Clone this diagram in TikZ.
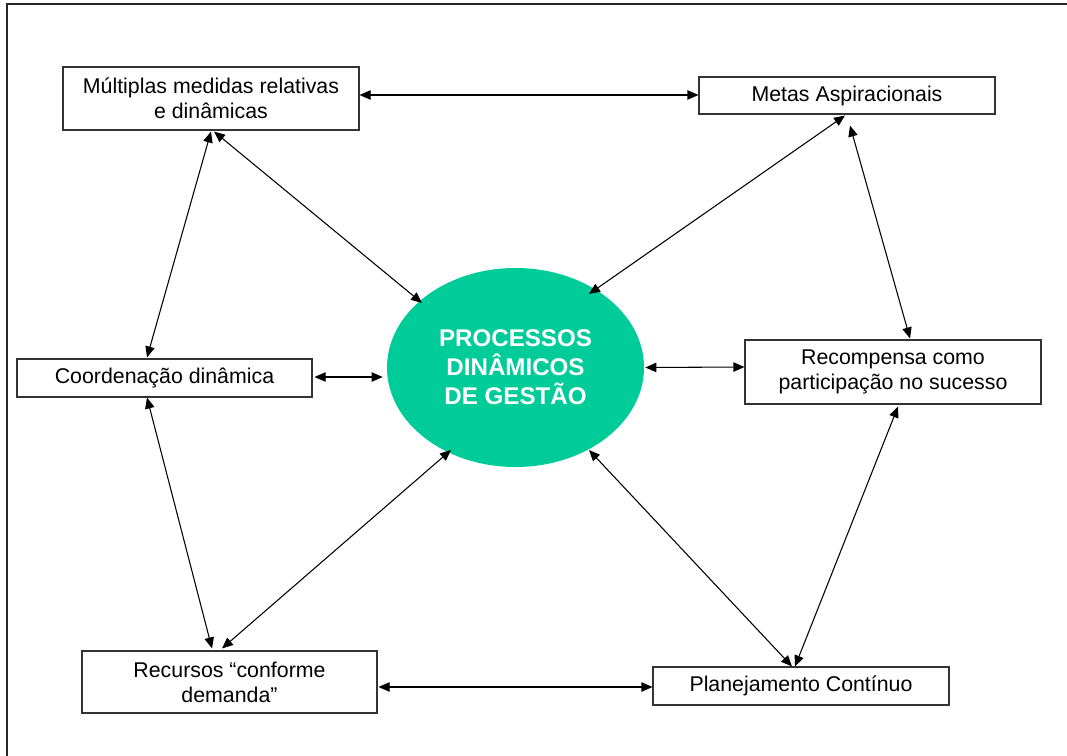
\documentclass[tikz,border=0pt]{standalone}
\usepackage{fontspec}
\setmainfont{Liberation Sans}
\usetikzlibrary{calc,arrows.meta,shapes.geometric}
\definecolor{procgreen}{RGB}{0,204,153}
\begin{document}
\begin{tikzpicture}[x=0.75pt,y=-0.75pt,
  box/.style={draw=black!80,line width=0.8pt,fill=white,inner sep=0pt,align=center,
    font=\fontsize{16}{18.75}\selectfont},
  link/.style={line width=0.8pt,
    {Triangle[length=8.25pt,width=7pt]}-{Triangle[length=8.25pt,width=7pt]}}]
\useasboundingbox (0,0) rectangle (1067,756);
\draw[line width=1.1pt,black!85] (7,756) -- (7,4) -- (1067,4);

\node[box,minimum width=222pt,minimum height=47.25pt] (m) at (211,98.5) {Múltiplas medidas relativas\\e dinâmicas};
\node[box,minimum width=222pt,minimum height=27.75pt] (a) at (847,95.5) {Metas Aspiracionais};
\node[box,minimum width=221.25pt,minimum height=28.5pt] (c) at (164.5,378) {Coordenação dinâmica};
\node[box,minimum width=222pt,minimum height=48pt] (r) at (893,372) {Recompensa como\\participação no sucesso};
\node[box,minimum width=221.25pt,minimum height=46.5pt] (u) at (229.5,682) {Recursos “conforme\\demanda”};
\node[box,minimum width=222pt,minimum height=28.5pt] (p) at (801,686) {Planejamento Contínuo};
\node[ellipse,fill=procgreen,minimum width=192.75pt,minimum height=149.25pt,inner sep=0pt,
  align=center,text=white,font=\bfseries\fontsize{18.1}{21.75}\selectfont] (e) at (515.5,367.5)
  {PROCESSOS\\DINÂMICOS\\DE GESTÃO};

\draw[link] ($(m.east)+(0,-3.5)$) -- ($(a.west)+(0,-0.5)$);
\draw[link] ($(m.south)+(3,1)$) -- ($(e.center)+(-93.5,-64.5)$);
\draw[link] ($(m.south)+(0,1)$) -- ($(c.north)+(-17.5,-1)$);
\draw[link] ($(a.south)+(-2,1)$) -- ($(e.center)+(73.5,-73.5)$);
\draw[link] ($(a.south)+(3,11)$) -- ($(r.north)+(17,-1)$);
\draw[link] ($(c.east)+(2,-1)$) -- ($(e.west)+(-4,9.5)$);
\draw[link] ($(e.east)+(1,0)$) -- ($(r.west)+(0,-5)$);
\draw[link] ($(c.south)+(-17.5,0)$) -- ($(u.north)+(-17.5,-2)$);
\draw[link] ($(e.center)+(-64.5,82.5)$) -- ($(u.north)+(-7.5,-2)$);
\draw[link] ($(e.center)+(73.5,82.5)$) -- ($(p.north)+(-9,0)$);
\draw[link] ($(r.south)+(5,2)$) -- ($(p.north)+(-6,0)$);
\draw[link] ($(u.east)+(1,5)$) -- ($(p.west)+(0,1)$);
\end{tikzpicture}
\end{document}
